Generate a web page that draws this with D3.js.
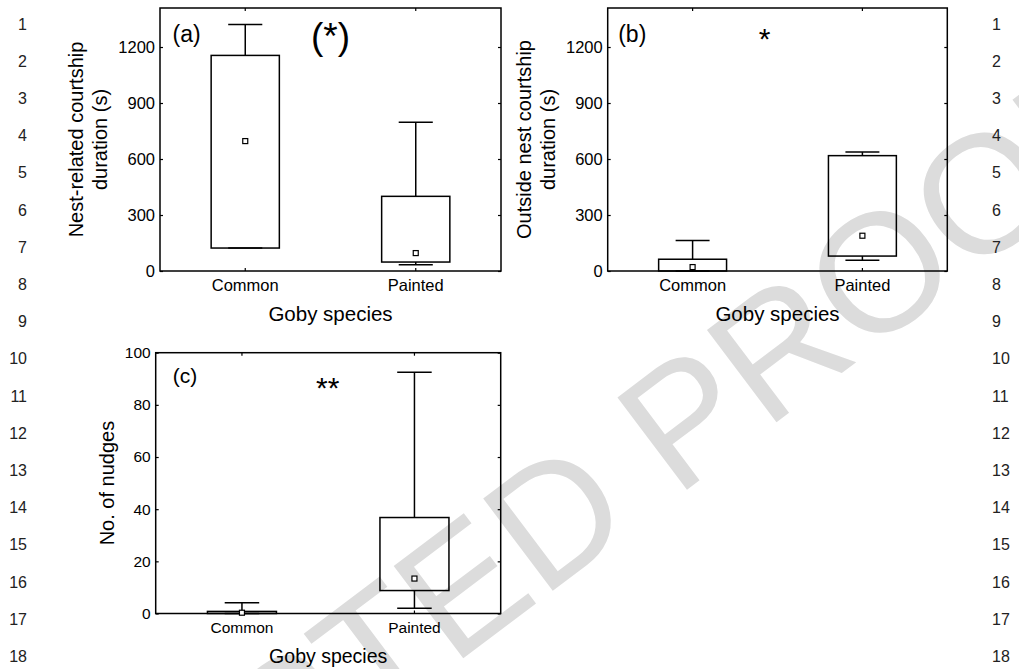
<!DOCTYPE html>
<html>
<head>
<meta charset="utf-8">
<script src="https://cdn.jsdelivr.net/npm/d3@7"></script>
<style>
  body { margin: 0; background: #fff; }
  svg { display: block; }
  text { font-family: "Liberation Sans", Arial, Helvetica, sans-serif; }
</style>
</head>
<body>
<svg id="fig" width="1019" height="669"></svg>
<script>
const species = ['Common', 'Painted'];

// (a) nest-related courtship duration (s): min, 25%, median, 75%, max
const nestMin = [123, 34];
const nestQ1 = [123, 48];
const nestMid = [696, 96];
const nestQ3 = [1155, 400];
const nestMax = [1321, 797];

// (b) outside nest courtship duration (s)
const outMin = [0, 57];
const outQ1 = [0, 80];
const outMid = [21, 189];
const outQ3 = [63, 618];
const outMax = [164, 637];

// (c) number of nudges
const nudgeMin = [0, 2];
const nudgeQ1 = [0, 8.8];
const nudgeMid = [0.3, 13.4];
const nudgeQ3 = [0.8, 36.8];
const nudgeMax = [4.1, 92.5];

const durationTicks = [0, 300, 600, 900, 1200];
const nudgeTicks = [0, 20, 40, 60, 80, 100];
const lineNumbers = [1, 2, 3, 4, 5, 6, 7, 8, 9, 10, 11, 12, 13, 14, 15, 16, 17, 18];

const FONT = '"Liberation Sans", Arial, Helvetica, sans-serif';
const svg = d3.select('#fig');

// proof watermark, sits behind everything
const wm = svg.append('text')
  .attr('font-size', 168)
  .attr('fill', '#dcdcdc')
  .text('ACCEPTED PROOF');
const preLen = wm.node().getSubStringLength(0, 9);
wm.attr('x', -preLen).attr('transform', 'translate(676,498) rotate(-37)');

// line numbers down both margins
const lineY = d3.scaleLinear().domain([1, 18]).range([29.5, 662]);
[[27, 'end'], [992, 'start']].forEach(([lx, anchor]) => {
  svg.append('g')
    .selectAll('text')
    .data(lineNumbers)
    .join('text')
    .attr('x', lx)
    .attr('y', (d) => lineY(d))
    .attr('text-anchor', anchor)
    .attr('font-size', 16)
    .attr('fill', '#222')
    .text((d) => d);
});

function drawPanel(p) {
  const w = p.right - p.left;
  const h = p.bottom - p.top;
  const g = svg.append('g').attr('transform', `translate(${p.left},${p.top})`);

  const x = d3.scaleBand().domain(species).range([0, w]);
  const y = d3.scaleLinear().domain([0, p.yMax]).range([h, 0]);

  function styleAxis(sel) {
    sel.attr('font-family', FONT).attr('font-size', p.tickFont);
    sel.select('.domain').remove();
    sel.selectAll('line').attr('stroke', '#000').attr('stroke-width', 1.2);
    sel.selectAll('text').attr('fill', '#000');
  }

  g.append('g')
    .call(d3.axisLeft(y).tickValues(p.ticks).tickFormat(d3.format('d')).tickSize(-3).tickPadding(5))
    .call(styleAxis);
  g.append('g').attr('transform', `translate(${w},0)`)
    .call(d3.axisRight(y).tickValues(p.ticks).tickSize(-3).tickFormat(() => '')).call(styleAxis);
  g.append('g').attr('transform', `translate(0,${h})`)
    .call(d3.axisBottom(x).tickSize(-3).tickPadding(8)).call(styleAxis);
  g.append('g')
    .call(d3.axisTop(x).tickSize(-3).tickFormat(() => '')).call(styleAxis);

  g.append('rect')
    .attr('width', w)
    .attr('height', h)
    .attr('fill', 'none')
    .attr('stroke', '#000')
    .attr('stroke-width', 1.5);

  const bw = x.bandwidth() * 0.4;
  const cw = x.bandwidth() * 0.2;
  species.forEach((s, i) => {
    const cx = x(s) + x.bandwidth() / 2;
    const line = (x1, y1, x2, y2) =>
      g.append('line').attr('x1', x1).attr('y1', y1).attr('x2', x2).attr('y2', y2)
        .attr('stroke', '#000').attr('stroke-width', 1.5);
    line(cx, y(p.max[i]), cx, y(p.q3[i]));
    line(cx, y(p.q1[i]), cx, y(p.min[i]));
    line(cx - cw / 2, y(p.max[i]), cx + cw / 2, y(p.max[i]));
    line(cx - cw / 2, y(p.min[i]), cx + cw / 2, y(p.min[i]));
    g.append('rect')
      .attr('x', cx - bw / 2)
      .attr('y', y(p.q3[i]))
      .attr('width', bw)
      .attr('height', y(p.q1[i]) - y(p.q3[i]))
      .attr('fill', 'none')
      .attr('stroke', '#000')
      .attr('stroke-width', 1.5);
    g.append('rect')
      .attr('x', cx - 2.5)
      .attr('y', y(p.mid[i]) - 2.5)
      .attr('width', 5)
      .attr('height', 5)
      .attr('fill', '#fff')
      .attr('stroke', '#000')
      .attr('stroke-width', 1.2);
  });

  // y title, one or two lines
  p.yTitle.forEach((t, k) => {
    g.append('text')
      .attr('transform', `translate(${p.yTitleX[k]},${h / 2}) rotate(-90)`)
      .attr('text-anchor', 'middle')
      .attr('font-size', 20)
      .text(t);
  });

  g.append('text')
    .attr('x', w / 2)
    .attr('y', h + 50)
    .attr('text-anchor', 'middle')
    .attr('font-size', p.xTitleFont)
    .text('Goby species');

  g.append('text')
    .attr('x', p.labelDx)
    .attr('y', p.labelDy)
    .attr('font-size', p.labelFont)
    .text(p.label);

  g.append('text')
    .attr('x', p.sigX)
    .attr('y', p.sigY)
    .attr('text-anchor', 'middle')
    .attr('font-size', p.sigFont)
    .text(p.sig);
}

drawPanel({
  left: 160, right: 501, top: 8, bottom: 271, yMax: 1409, ticks: durationTicks,
  min: nestMin, q1: nestQ1, mid: nestMid, q3: nestQ3, max: nestMax,
  tickFont: 16.5, xTitleFont: 20.5,
  yTitle: ['Nest-related courtship', 'duration (s)'], yTitleX: [-77, -53],
  label: '(a)', labelDx: 12.5, labelDy: 34, labelFont: 23,
  sig: '(*)', sigX: 170.5, sigY: 41, sigFont: 37
});

drawPanel({
  left: 607.7, right: 947.3, top: 8, bottom: 271, yMax: 1409, ticks: durationTicks,
  min: outMin, q1: outQ1, mid: outMid, q3: outQ3, max: outMax,
  tickFont: 16.5, xTitleFont: 20.5,
  yTitle: ['Outside nest courtship', 'duration (s)'], yTitleX: [-77, -53],
  label: '(b)', labelDx: 10.5, labelDy: 34, labelFont: 23,
  sig: '*', sigX: 157, sigY: 41, sigFont: 30
});

drawPanel({
  left: 155.7, right: 500.7, top: 352.7, bottom: 613.5, yMax: 100, ticks: nudgeTicks,
  min: nudgeMin, q1: nudgeQ1, mid: nudgeMid, q3: nudgeQ3, max: nudgeMax,
  tickFont: 15.5, xTitleFont: 19.5,
  yTitle: ['No. of nudges'], yTitleX: [-42],
  label: '(c)', labelDx: 17, labelDy: 30, labelFont: 21,
  sig: '**', sigX: 172, sigY: 45, sigFont: 30
});
</script>
</body>
</html>
